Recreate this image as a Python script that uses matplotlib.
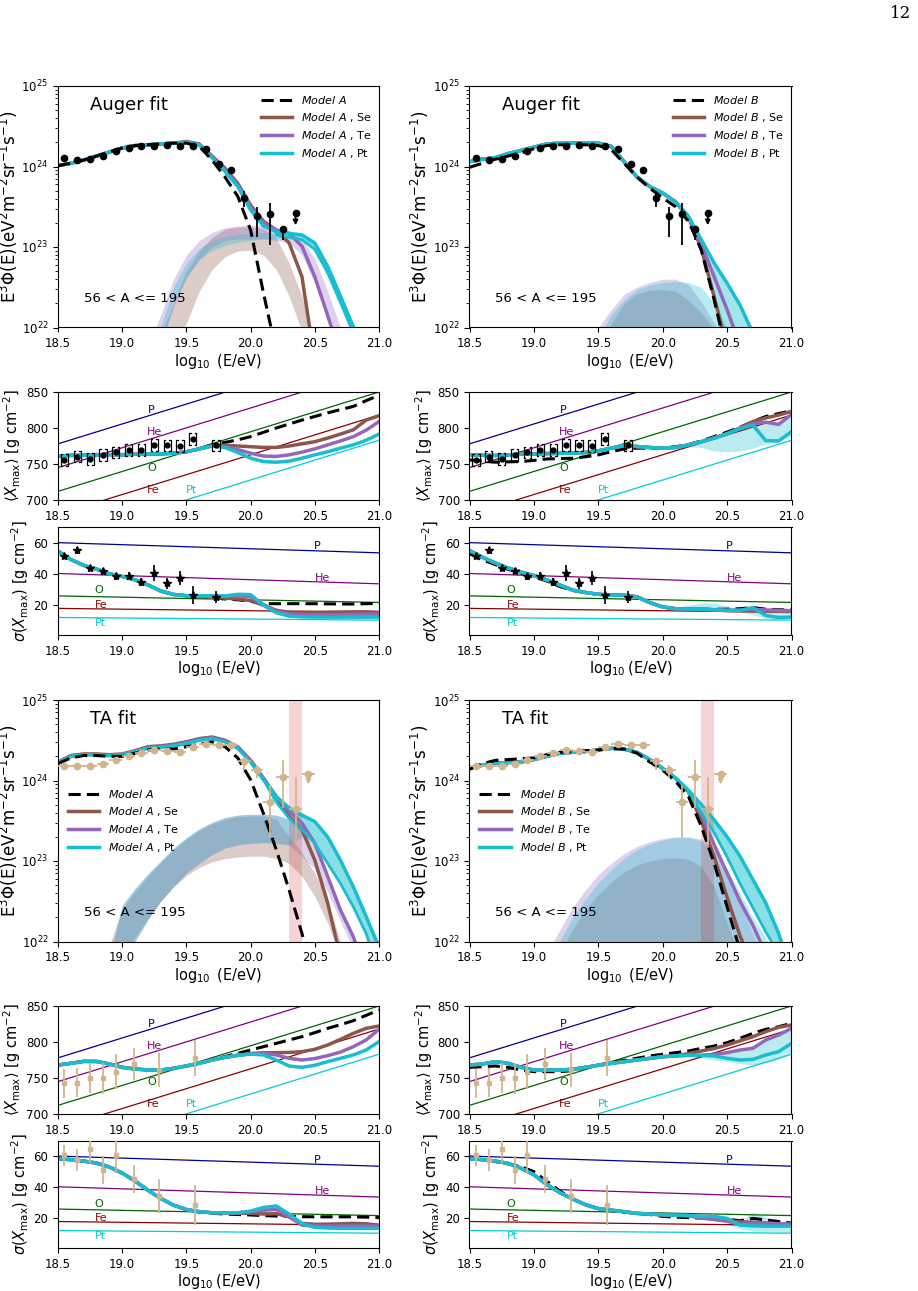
import numpy as np
import matplotlib.pyplot as plt
from matplotlib.lines import Line2D

nan = np.nan

# energy grid of the model curves, log10(E/eV)
lgE = [18.5, 18.6, 18.7, 18.8, 18.9, 19.0, 19.1, 19.2, 19.3, 19.4, 19.5, 19.6, 19.7,
       19.8, 19.9, 20.0, 20.1, 20.2, 20.3, 20.4, 20.5, 20.6, 20.7, 20.8, 20.9, 21.0]
floor = [21.0] * 26

# ---------------- measured data ----------------
auger_E = [18.55, 18.65, 18.75, 18.85, 18.95, 19.05, 19.15, 19.25, 19.35, 19.45,
           19.55, 19.65, 19.75, 19.85, 19.95, 20.05, 20.15, 20.25, 20.35]
auger_lgF = [24.10, 24.08, 24.09, 24.135, 24.19, 24.23, 24.26, 24.26, 24.27, 24.25,
             24.25, 24.22, 24.03, 23.96, 23.61, 23.39, 23.41, 23.22, 23.42]
auger_dlo = [0.01] * 12 + [0.02, 0.03, 0.11, 0.26, 0.38, 0.13, 0.15]  # last = upper limit
auger_dhi = [0.01] * 12 + [0.02, 0.03, 0.08, 0.11, 0.14, 0.03, 0.0]

ta_E = [18.55, 18.65, 18.75, 18.85, 18.95, 19.05, 19.15, 19.25, 19.35, 19.45,
        19.55, 19.65, 19.75, 19.85, 19.95, 20.05, 20.15, 20.25, 20.35, 20.45]
ta_lgF = [24.185, 24.18, 24.18, 24.21, 24.25, 24.30, 24.34, 24.38, 24.37, 24.35,
          24.42, 24.45, 24.44, 24.44, 24.24, 24.13, 23.73, 24.04, 23.64, 24.08]
ta_dlo = [0.01] * 10 + [0.015, 0.02, 0.02, 0.03, 0.11, 0.10, 0.45, 0.38, 0.44, 0.13]
ta_dhi = [0.01] * 10 + [0.015, 0.02, 0.02, 0.03, 0.04, 0.06, 0.21, 0.21, 0.40, 0.0]

auger_cE = [18.55, 18.65, 18.75, 18.85, 18.95, 19.05, 19.15, 19.25, 19.35, 19.45, 19.55, 19.73]
auger_xmax = [755.7, 760.4, 757, 762.7, 766, 769.6, 769.6, 776.6, 775.7, 775.2, 784.5, 775.7]
auger_xmax_err = [2, 2, 2, 2, 2, 2, 2, 2, 2.5, 2.5, 3, 3]
auger_xmax_sys = [8] * 12
auger_sig = [51.4, 55, 43.8, 42, 38.4, 39, 34.7, 40.5, 34, 37.3, 26.5, 25.4]
auger_sig_err = [2, 2, 2, 2, 2, 2.5, 2.5, 5, 3.5, 4.5, 5.5, 4]

ta_cE = [18.55, 18.65, 18.75, 18.85, 18.95, 19.09, 19.29, 19.57]
ta_xmax = [742.6, 743.5, 749.5, 749.5, 758.8, 769.4, 761, 777.3]
ta_xmax_err = [20, 20, 21, 22, 24, 22, 24, 25]
ta_sig = [60.4, 57.7, 64.7, 51.3, 61, 45.5, 34.3, 28.5]
ta_sig_err = [7, 7, 9, 9, 12, 9, 11, 13]

# ---------------- pure-composition reference lines ----------------
comp_names = ['P', 'He', 'O', 'Fe', 'Pt']
comp_colors = ['darkblue', 'purple', 'darkgreen', 'darkred', 'darkturquoise']
comp_xmax_185 = [778, 745, 712, 680, 645]
comp_xmax_210 = [916, 883, 850, 818, 783]
comp_sig_185 = [60, 40.3, 26, 18, 12.2]
comp_sig_210 = [53.5, 33.7, 21.8, 15.5, 10.5]
comp_xmax_lab = [(19.23, 825), (19.25, 794), (19.23, 744), (19.24, 714), (19.54, 714)]
comp_sig_lab = [(20.52, 57.8), (20.56, 37.3), (18.82, 29.5), (18.84, 20.2), (18.83, 8.5)]

# ---------------- Auger fit, model A : spectrum (log10 flux) ----------------
aa_dash = [24.01, 24.04, 24.08, 24.13, 24.18, 24.23, 24.26, 24.27, 24.28, 24.29, 24.29, 24.25, 24.08,
           23.87, 23.63, 23.21, 22.43, 21.7, nan, nan, nan, nan, nan, nan, nan, nan]
aa_cyan = [24.01, 24.04, 24.08, 24.13, 24.18, 24.23, 24.26, 24.27, 24.28, 24.29, 24.30, 24.27, 24.11,
           23.94, 23.75, 23.46, 23.26, 23.19, 23.17, 23.15, 23.05, 22.76, 22.39, 22.01, 21.6, nan]
aa_cyan_lo = [nan] * 17 + [23.15, 23.12, 23.09, 22.97, 22.68, 22.31, 21.93, 21.5, nan]
aa_brown = [24.01, 24.04, 24.08, 24.13, 24.18, 24.23, 24.26, 24.27, 24.28, 24.29, 24.31, 24.28, 24.13,
            23.98, 23.79, 23.52, 23.32, 23.21, 23.05, 22.63, 21.58, nan, nan, nan, nan, nan]
aa_purple = [24.01, 24.04, 24.08, 24.13, 24.18, 24.23, 24.26, 24.27, 24.28, 24.29, 24.30, 24.27, 24.12,
             23.96, 23.77, 23.50, 23.30, 23.21, 23.17, 23.01, 22.63, 22.15, 21.66, nan, nan, nan]
aa_bband_lo = [nan] * 8 + [21.5, 21.8, 22.05, 22.45, 22.72, 22.88, 22.95, 22.96, 22.90, 22.72, 22.39,
                           21.95, 21.5, nan, nan, nan, nan, nan]
aa_bband_hi = [nan] * 8 + [21.9, 22.3, 22.7, 22.95, 23.12, 23.22, 23.25, 23.25, 23.23, 23.11, 22.8,
                           22.39, 21.8, nan, nan, nan, nan, nan]
aa_pband_lo = [nan] * 7 + [21.4, 21.8, 22.25, 22.62, 22.85, 23.0, 23.08, 23.1, 23.1, 23.1, 23.08, 23.05,
                           22.9, 22.55, 22.1, 21.6, nan, nan, nan]
aa_pband_hi = [nan] * 7 + [21.8, 22.15, 22.6, 22.9, 23.08, 23.18, 23.24, 23.26, 23.27, 23.27, 23.22,
                           23.17, 23.1, 22.85, 22.45, 22.0, nan, nan, nan]
aa_cband_lo = [nan] * 8 + [21.75, 22.3, 22.62, 22.84, 22.96, 23.02, 23.06, 23.08, 23.1, 23.1, 23.1,
                           23.08, 22.98, 22.7, 22.33, 21.95, 21.5, nan]
aa_cband_hi = [nan] * 8 + [22.0, 22.5, 22.8, 22.98, 23.08, 23.13, 23.16, 23.17, 23.18, 23.18, 23.17,
                           23.15, 23.05, 22.76, 22.39, 22.01, 21.6, nan]

# ---------------- Auger fit, model B : spectrum ----------------
ab_dash = [23.99, 24.04, 24.09, 24.13, 24.17, 24.22, 24.26, 24.27, 24.27, 24.27, 24.26, 24.21, 24.04,
           23.87, 23.73, 23.61, 23.50, 23.32, 22.96, 22.34, 21.66, nan, nan, nan, nan, nan]
ab_cyan = [24.06, 24.09, 24.11, 24.16, 24.20, 24.24, 24.28, 24.29, 24.29, 24.29, 24.29, 24.25, 24.06,
           23.87, 23.75, 23.67, 23.56, 23.38, 23.09, 22.80, 22.55, 22.28, 21.93, 21.5, nan, nan]
ab_purple = [24.06, 24.09, 24.11, 24.16, 24.20, 24.24, 24.28, 24.29, 24.29, 24.29, 24.29, 24.25, 24.06,
             23.87, 23.75, 23.67, 23.56, 23.38, 23.03, 22.63, 22.22, 21.78, nan, nan, nan, nan]
ab_brown = [24.06, 24.09, 24.11, 24.16, 24.20, 24.24, 24.28, 24.29, 24.29, 24.29, 24.29, 24.25, 24.06,
            23.87, 23.75, 23.67, 23.56, 23.37, 22.98, 22.38, 21.75, nan, nan, nan, nan, nan]
ab_fill_lo = [nan] * 17 + [23.32, 22.96, 22.34, 21.66, 21.0, 21.0, 21.0, nan, nan]
ab_bband_hi = [nan] * 10 + [21.6, 22.05, 22.3, 22.42, 22.46, 22.47, 22.45, 22.34, 22.18, 21.98, 21.6,
                            nan, nan, nan, nan, nan]
ab_pband_hi = [nan] * 9 + [21.6, 22.0, 22.22, 22.41, 22.5, 22.56, 22.6, 22.6, 22.53, 22.32, 22.05, 21.7,
                           nan, nan, nan, nan, nan]
ab_cband_hi = [nan] * 10 + [21.85, 22.16, 22.34, 22.47, 22.53, 22.56, 22.57, 22.56, 22.5, 22.3, 22.0,
                            21.6, nan, nan, nan, nan]

# ---------------- TA fit, model A : spectrum ----------------
tA_dash = [24.21, 24.28, 24.31, 24.31, 24.30, 24.30, 24.34, 24.38, 24.39, 24.39, 24.42, 24.45, 24.48,
           24.42, 24.28, 24.01, 23.59, 23.14, 22.64, 22.10, 21.5, nan, nan, nan, nan, nan]
tA_cyan = [24.22, 24.30, 24.32, 24.32, 24.31, 24.32, 24.36, 24.40, 24.41, 24.43, 24.46, 24.50, 24.52,
           24.48, 24.40, 24.23, 24.01, 23.80, 23.66, 23.57, 23.49, 23.30, 23.01, 22.68, 22.31, 21.93]
tA_cyan_lo = [nan] * 16 + [24.01, 23.73, 23.53, 23.39, 23.22, 22.97, 22.72, 22.43, 22.1, 21.6]
tA_brown = [24.23, 24.31, 24.33, 24.33, 24.32, 24.33, 24.37, 24.42, 24.43, 24.45, 24.48, 24.52, 24.54,
            24.50, 24.42, 24.25, 24.03, 23.80, 23.55, 23.39, 23.01, 22.48, 21.8, nan, nan, nan]
tA_purple = [24.22, 24.30, 24.32, 24.32, 24.31, 24.32, 24.36, 24.41, 24.42, 24.44, 24.47, 24.51, 24.53,
             24.49, 24.41, 24.24, 24.02, 23.80, 23.62, 23.47, 23.22, 22.81, 22.39, 22.06, 21.6, nan]
tA_bband_lo = [nan] * 4 + [21.4, 21.8, 22.05, 22.28, 22.5, 22.68, 22.82, 22.92, 22.99, 23.03, 23.05,
                           23.06, 23.06, 23.03, 22.97, 22.81, 22.56, 22.23, 21.8, nan, nan, nan]
tA_bband_hi = [nan] * 4 + [21.95, 22.4, 22.62, 22.81, 22.98, 23.14, 23.27, 23.38, 23.46, 23.52, 23.55,
                           23.56, 23.56, 23.52, 23.3, 23.1, 22.85, 22.5, 22.0, nan, nan, nan]
tA_pband_lo = [nan] * 4 + [21.3, 21.7, 22.0, 22.27, 22.5, 22.68, 22.85, 22.97, 23.08, 23.16, 23.2,
                           23.22, 23.23, 23.22, 23.2, 23.06, 22.9, 22.62, 22.25, 21.9, 21.5, nan]
tA_pband_hi = [nan] * 4 + [21.8, 22.45, 22.66, 22.84, 23.0, 23.16, 23.29, 23.4, 23.48, 23.54, 23.57,
                           23.58, 23.58, 23.57, 23.52, 23.45, 23.22, 22.81, 22.39, 22.06, 21.6, nan]
tA_cband_lo = [nan] * 4 + [21.3, 21.7, 22.0, 22.27, 22.5, 22.68, 22.85, 22.97, 23.08, 23.16, 23.2,
                           23.22, 23.23, 23.22, 23.2, 23.3, nan, nan, nan, nan, nan, nan]
tA_cband_hi = [nan] * 4 + [21.8, 22.45, 22.66, 22.84, 23.0, 23.16, 23.29, 23.4, 23.48, 23.54, 23.57,
                           23.58, 23.58, 23.57, 23.52, 23.4, nan, nan, nan, nan, nan, nan]

# ---------------- TA fit, model B : spectrum ----------------
tB_dash = [24.14, 24.21, 24.25, 24.26, 24.27, 24.28, 24.32, 24.35, 24.36, 24.37, 24.38, 24.40, 24.39,
           24.34, 24.23, 24.13, 23.99, 23.80, 23.43, 22.97, 22.43, 21.89, nan, nan, nan, nan]
tB_cyan = [24.15, 24.19, 24.22, 24.22, 24.23, 24.26, 24.30, 24.34, 24.35, 24.36, 24.38, 24.40, 24.39,
           24.35, 24.26, 24.15, 24.03, 23.88, 23.70, 23.51, 23.30, 23.06, 22.77, 22.48, 22.10, 21.6]
tB_cyan_lo = [nan] * 17 + [23.85, 23.6, 23.35, 23.05, 22.72, 22.42, 22.12, 21.85, nan]
tB_purple = [24.15, 24.19, 24.22, 24.22, 24.23, 24.26, 24.30, 24.34, 24.35, 24.36, 24.38, 24.40, 24.39,
             24.35, 24.26, 24.15, 24.03, 23.87, 23.58, 23.2, 22.85, 22.5, 22.2, 21.85, nan, nan]
tB_brown = [24.15, 24.19, 24.22, 24.22, 24.23, 24.26, 24.30, 24.34, 24.35, 24.36, 24.38, 24.40, 24.39,
            24.35, 24.26, 24.15, 24.03, 23.86, 23.5, 23.05, 22.55, 22.07, 21.7, nan, nan, nan]
tB_pband_hi = [nan] * 6 + [21.85, 22.14, 22.42, 22.64, 22.83, 22.97, 23.09, 23.18, 23.24, 23.28, 23.30,
                           23.30, 23.27, 23.15, 22.9, 22.5, 22.1, 21.7, nan, nan]
tB_cband_hi = [nan] * 7 + [22.0, 22.3, 22.52, 22.73, 22.89, 23.03, 23.14, 23.21, 23.26, 23.29, 23.29,
                           23.25, 23.13, 22.9, 22.6, 22.3, 22.05, 21.7, nan]
tB_bband_hi = [nan] * 7 + [21.85, 22.15, 22.39, 22.58, 22.74, 22.86, 22.95, 23.0, 23.03, 23.04, 23.02,
                           22.93, 22.68, 22.23, 21.8, nan, nan, nan, nan]

# ---------------- <Xmax> and sigma(Xmax) model curves ----------------
aa_xm_dash = [761, 762, 762, 763, 763, 763, 763.5, 764, 764, 765, 767, 771, 776.6, 780, 783.6, 788,
              794, 800, 805.5, 811, 816, 821, 825.5, 830, 838, 845.4]
aa_xm_brown = [761, 762, 762, 763, 763, 763, 763.5, 764, 764, 765, 767, 771, 775.5, 776, 775, 774,
               773, 773, 775, 778, 781, 786, 791.5, 797.5, 811, 817]
aa_xm_purple = [761, 762, 762, 763, 763, 763, 763.5, 764, 764, 765, 767, 771, 775, 774, 770, 765,
                761, 760.5, 762.7, 766.5, 771, 776.5, 782, 788, 797, 809]
aa_xm_cyan = [761, 762, 762, 763, 763, 763, 763.5, 764, 764, 765, 767, 771, 775, 773, 766, 758,
              753.4, 752.5, 754, 758, 762.7, 767, 772, 776.6, 783, 791.5]
aa_sg_dash = [54.6, 49.2, 45.5, 43.1, 40.1, 38.4, 36.2, 33.0, 29.1, 26.9, 26.1, 25.6, 24.8, 24.0,
              23.5, 22.5, 21.0, 21.0, 21.0, 21.0, 21.0, 20.9, 20.8, 20.8, 21.0, 21.2]
aa_sg_brown = [54.6, 49.2, 45.5, 43.1, 40.1, 38.4, 36.2, 33.0, 29.1, 26.9, 26.1, 25.6, 25.2, 24.6,
               24.0, 23.0, 20.0, 16.8, 15.5, 15.5, 15.5, 15.6, 15.7, 15.8, 15.8, 15.5]
aa_sg_purple = [54.6, 49.2, 45.5, 43.1, 40.1, 38.4, 36.2, 33.0, 29.1, 26.9, 26.1, 26.0, 26.0, 25.8,
                26.0, 25.5, 20.5, 16.0, 14.5, 14.0, 14.0, 14.0, 14.0, 14.2, 14.3, 14.3]
aa_sg_cyan = [54.6, 49.2, 45.5, 43.1, 40.1, 38.4, 36.2, 33.0, 29.1, 26.9, 26.1, 26.0, 26.0, 26.0,
              27.0, 26.8, 20.0, 15.2, 13.1, 12.6, 12.4, 12.4, 12.4, 12.4, 12.4, 12.4]

ab_xm_dash = [755.7, 754, 752.5, 753, 753.4, 755, 757, 757.5, 758, 760, 762.7, 767, 771, 772, 772, 772,
              774, 777, 782, 788, 794.3, 801, 809, 816, 820, 824]
ab_xm_brown = [762.7, 762.2, 761.8, 762.7, 763.6, 764, 764.5, 764.8, 765, 766, 768.3, 772, 775.7, 774.3,
               772.9, 772, 773, 776.6, 781, 786.5, 792, 800, 809, 814, 818, 823]
ab_xm_purple = [762.7, 762.2, 761.8, 762.7, 763.6, 764, 764.5, 764.8, 765, 766, 768.3, 772, 775.7, 774.3,
                772.9, 772, 773, 776.6, 781, 785.9, 792, 800, 806, 808, 805, 819]
ab_xm_cyan = [762.7, 762.2, 761.8, 762.7, 763.6, 764, 764.5, 764.8, 765, 766, 768.3, 772, 775.7, 774.3,
              772.9, 772, 773, 776.6, 781, 785.9, 792, 799, 804, 782.5, 782, 795]
ab_xm_band_lo = [nan] * 15 + [772, 772, 774, 773, 768, 767, 768, 772, 778, 781, 790]
ab_sg_dash = [53, 49, 46, 43, 40.5, 38, 35.5, 32, 29.5, 28, 27, 26.5, 26.4, 25.4, 21.7, 18.9, 17.8,
              17.6, 17.4, 17.4, 17.5, 17.8, 18.5, 17.5, 17.2, 17.0]
ab_sg_brown = [55, 50.7, 47, 43.8, 41.2, 39, 36.2, 33, 29.7, 28.2, 27, 26.5, 26.4, 25.4, 21.7, 18.9,
               17.8, 17.6, 17.4, 17.1, 16.6, 16.5, 16.5, 16.3, 16.2, 16.0]
ab_sg_purple = [55, 50.7, 47, 43.8, 41.2, 39, 36.2, 33, 29.7, 28.2, 27, 26.5, 26.4, 25.4, 21.7, 18.9,
                17.8, 17.6, 17.4, 17.1, 16.8, 16.8, 17.5, 17.0, 16.8, 16.5]
ab_sg_cyan = [55, 50.7, 47, 43.8, 41.2, 39, 36.2, 33, 29.7, 28.2, 27, 26.5, 26.4, 25.4, 21.7, 18.9,
              17.8, 17.6, 17.4, 17.1, 16.8, 16.8, 18.5, 13.5, 12.2, 12.4]
ab_sg_band_lo = [nan] * 15 + [18.9, 17.8, 17.3, 17.0, 16.5, 16.0, 15.5, 14.0, 11.5, 11.3, 11.5]
ab_sg_band_hi = [nan] * 15 + [19, 19, 20, 21.5, 21.5, 19.5, 17.5, 19, 17, 16.5, 15.5]

tA_xm_dash = [768, 770.4, 773.1, 773, 769.4, 764.8, 762.5, 761.1, 761.1, 763.4, 766.7, 770.4, 775.5,
              779.6, 784.3, 788.9, 793.5, 798.1, 802.8, 807.4, 813, 819, 824, 829.6, 837, 844.4]
tA_xm_brown = [768, 770.4, 773.1, 773, 769.4, 764.8, 762.5, 761.1, 761.1, 763.4, 766.7, 770.4, 775,
               778.7, 781.5, 784, 785, 785.2, 785.5, 786.6, 789.8, 795.8, 803.7, 812, 819, 822.2]
tA_xm_purple = [768, 770.4, 773.1, 773, 769.4, 764.8, 762.5, 761.1, 761.1, 763.4, 766.7, 770.4, 775,
                778.7, 781.5, 783.3, 784.3, 782, 777.3, 775, 777, 781, 786, 793.5, 802.8, 817.6]
tA_xm_cyan = [768, 770.4, 773.1, 773, 769.4, 764.8, 762.5, 761.1, 761.1, 763.4, 766.7, 770.4, 775,
              778.7, 781.5, 783.3, 782, 775, 766.7, 764.8, 767.6, 772.7, 777.3, 782, 788.9, 800.5]
tA_sg_dash = [58.3, 57.7, 56.8, 55.5, 53, 49.1, 44, 38.1, 32.8, 28.5, 25.7, 24.0, 23.3, 22.8, 22.5,
              22.2, 21.8, 21.5, 21.3, 21.1, 21, 21, 21, 21, 20.8, 20.5]
tA_sg_brown = [58.3, 57.7, 56.8, 55.5, 53, 49.1, 44, 38.1, 32.8, 28.5, 25.7, 24.3, 23.6, 23.6, 23.3,
               23.2, 22.8, 23, 21, 16.8, 16.2, 16.3, 16.5, 16.8, 16.5, 15.7]
tA_sg_purple = [58.3, 57.7, 56.8, 55.5, 53, 49.1, 44, 38.1, 32.8, 28.5, 25.7, 24.3, 23.6, 23.6, 23.6,
                24.2, 25.3, 25.7, 21, 15.7, 15.1, 15.1, 15.1, 15.1, 15.1, 15.1]
tA_sg_cyan = [58.3, 57.7, 56.8, 55.5, 53, 49.1, 44, 38.1, 32.8, 28.5, 25.7, 24.3, 23.6, 23.6, 23.6,
              24.7, 27, 28, 22.8, 16.8, 14.3, 13.8, 13.6, 13.6, 13.6, 13.6]

tB_xm_dash = [764.8, 765.7, 766.7, 764.8, 761.1, 758.8, 758.8, 758.8, 760.2, 764.8, 768, 771.5, 774.5,
              777.5, 780.6, 782.9, 785.2, 787.5, 791.2, 794.4, 799.1, 805.1, 812, 817.6, 821.3, 825.9]
tB_xm_brown = [768, 769.4, 772.7, 770.4, 764.8, 761.1, 761.1, 761.1, 762, 764.8, 767.6, 770.4, 772.7,
               775, 777.3, 779.6, 780.6, 784, 787.5, 791, 795.8, 801.5, 807.4, 814.4, 820.4, 823.6]
tB_xm_purple = [768, 769.4, 772.7, 770.4, 764.8, 761.1, 761.1, 761.1, 762, 764.8, 767.6, 770.4, 772.7,
                775, 777.3, 779.6, 780.6, 781.5, 781.5, 783, 785.2, 788.9, 791.2, 802.8, 809.7, 819]
tB_xm_cyan = [768, 769.4, 772.7, 770.4, 764.8, 761.1, 761.1, 761.1, 762, 764.8, 767.6, 770.4, 772.7,
              775, 777.3, 779.6, 780.6, 781.5, 781.5, 780.6, 777.3, 775, 775.9, 782, 786.6, 798.1]
tB_xm_band_lo = [nan] * 17 + [780, 778, 775, 772.7, 770, 768, 771, 776, 786]
tB_sg_dash = [58.3, 57.7, 56.5, 55, 53.2, 50, 43.9, 37.6, 32.5, 28.8, 26.3, 25.0, 24.0, 23.2, 22.5,
              21.3, 20.8, 20.5, 20.2, 20.0, 19.5, 18.5, 20.0, 19.0, 18.0, 17.0]
tB_sg_brown = [58.3, 57.7, 56.8, 55.3, 52.2, 48, 41.8, 36.6, 32.5, 28.8, 26.3, 25.3, 24.3, 23.2, 22.8,
               22.3, 22.0, 21.8, 20.5, 19.5, 18.6, 17.8, 17.5, 17, 16.6, 16.3]
tB_sg_purple = [58.3, 57.7, 56.8, 55.3, 52.2, 48, 41.8, 36.6, 32.5, 28.8, 26.3, 25.3, 24.3, 23.2, 22.8,
                22.3, 22.0, 21.8, 20.2, 19.3, 18.2, 16.3, 17.1, 17, 16.5, 16.2]
tB_sg_cyan = [58.3, 57.7, 56.8, 55.3, 52.2, 48, 41.8, 36.6, 32.5, 28.8, 26.3, 25.3, 24.3, 23.2, 22.8,
              22.3, 22.0, 21.8, 21.3, 21.3, 20.0, 15.7, 15.2, 15.0, 15.0, 15.0]
tB_sg_band_lo = [nan] * 20 + [16, 13.5, 12, 11.5, 11.3, 11.2]
tB_sg_band_hi = [nan] * 20 + [19.5, 18, 24, 21, 17.5, 16]

# ---------------- style ----------------
C_BROWN, C_PURPLE, C_CYAN = '#8c564b', '#9467bd', '#17becf'
C_TA = '#d2b48c'
LW = 2.5
TICK_FS, LABEL_FS = 8.5, 10.5
W, H = 918, 1291


def tolin(v):
    return 10.0 ** np.asarray(v, dtype=float)


def axpos(x0, w, top, bot):
    return [x0 / W, 1 - bot / H, w / W, (bot - top) / H]


def style(ax):
    ax.set_xlim(18.5, 21.0)
    ax.set_xticks([18.5, 19.0, 19.5, 20.0, 20.5, 21.0])
    ax.tick_params(labelsize=TICK_FS)


def spectrum(ax, dash, brown, purple, cyan, cyan_lo, bands, fills, data, tag, model, loc):
    x = np.array(lgE)
    for lo, hi, c in bands:
        ax.fill_between(x, tolin(lo), tolin(hi), color=c, alpha=0.3, lw=0)
    for lo, hi, a in fills:
        ax.fill_between(x, tolin(lo), tolin(hi), color=C_CYAN, alpha=a, lw=0)
    if data == 'ta':
        ax.axvspan(20.3, 20.4, color='tab:red', alpha=0.2, lw=0)
    ax.plot(x, tolin(brown), color=C_BROWN, lw=LW)
    ax.plot(x, tolin(purple), color=C_PURPLE, lw=LW)
    ax.plot(x, tolin(cyan), color=C_CYAN, lw=LW)
    if cyan_lo is not None:
        ax.plot(x, tolin(cyan_lo), color=C_CYAN, lw=2.0)
    ax.plot(x, tolin(dash), color='black', lw=2.2, ls=(0, (4, 2)))

    if data == 'auger':
        E, lgF, dlo, dhi, col, xe = auger_E, auger_lgF, auger_dlo, auger_dhi, 'black', None
    else:
        E, lgF, dlo, dhi, col, xe = ta_E, ta_lgF, ta_dlo, ta_dhi, C_TA, 0.05
    E = np.array(E)
    lgF = np.array(lgF)
    F = tolin(lgF)
    elo = F - tolin(lgF - np.array(dlo))
    ehi = tolin(lgF + np.array(dhi)) - F
    elo[-1] = 0.0  # last point is an upper limit
    ax.errorbar(E, F, yerr=[elo, ehi], xerr=xe, fmt='o', color=col, ms=4.5,
                elinewidth=1.3, capsize=0, zorder=5)
    ax.annotate('', xy=(E[-1], tolin(lgF[-1] - dlo[-1])), xytext=(E[-1], F[-1]),
                arrowprops=dict(arrowstyle='-|>', color=col, lw=1.3, mutation_scale=7,
                                shrinkA=0, shrinkB=0), zorder=5)

    ax.set_yscale('log')
    ax.set_ylim(1e22, 1e25)
    style(ax)
    ax.set_xlabel(r'$\log_{10}$ (E/eV)', fontsize=LABEL_FS, labelpad=1)
    ax.set_ylabel(r'E$^3\Phi$(E)(eV$^2$m$^{-2}$sr$^{-1}$s$^{-1}$)', fontsize=12, labelpad=1)
    ax.text(0.1, 0.92, tag, transform=ax.transAxes, fontsize=13, ha='left', va='center')
    ax.text(0.08, 0.12, '56 < A <= 195', transform=ax.transAxes, fontsize=9.5,
            ha='left', va='center')

    handles = [Line2D([], [], color='black', lw=2.2, ls=(0, (4, 2))),
               Line2D([], [], color=C_BROWN, lw=LW),
               Line2D([], [], color=C_PURPLE, lw=LW),
               Line2D([], [], color=C_CYAN, lw=LW)]
    m = r'$Model\ %s$' % model
    labels = [m, m + ' , Se', m + ' , Te', m + ' , Pt']
    if loc == 'upper right':
        ax.legend(handles, labels, loc='upper right', fontsize=8, frameon=False,
                  handlelength=2.8, labelspacing=0.45, borderaxespad=0.3)
    else:
        ax.legend(handles, labels, loc='center left', bbox_to_anchor=(0.0, 0.5), fontsize=8,
                  frameon=False, handlelength=2.8, labelspacing=0.45)


def composition(ax, kind, dash, brown, purple, cyan, band, data, last):
    x = np.array(lgE)
    if kind == 'xmax':
        c0, c1, labs = comp_xmax_185, comp_xmax_210, comp_xmax_lab
    else:
        c0, c1, labs = comp_sig_185, comp_sig_210, comp_sig_lab
    for name, col, y0, y1, (tx, ty) in zip(comp_names, comp_colors, c0, c1, labs):
        ax.plot([18.5, 21.0], [y0, y1], color=col, lw=0.9)
        ax.text(tx, ty, name, color=col, fontsize=8, ha='center', va='center')
    if band is not None:
        lo, hi = band
        ax.fill_between(x, np.asarray(lo, float), np.asarray(hi, float), color=C_CYAN,
                        alpha=0.3, lw=0)
    ax.plot(x, dash, color='black', lw=2.2, ls=(0, (4, 2)))
    ax.plot(x, brown, color=C_BROWN, lw=LW)
    ax.plot(x, purple, color=C_PURPLE, lw=LW)
    ax.plot(x, cyan, color=C_CYAN, lw=LW)

    if data == 'auger':
        E = np.array(auger_cE)
        if kind == 'xmax':
            y, e = np.array(auger_xmax), np.array(auger_xmax_err)
            for xi, yi, s in zip(E, y, auger_xmax_sys):
                w, a = 0.028, 0.012
                ax.plot([xi - w + a, xi - w, xi - w, xi - w + a], [yi + s, yi + s, yi - s, yi - s],
                        color='black', lw=0.9, zorder=5)
                ax.plot([xi + w - a, xi + w, xi + w, xi + w - a], [yi + s, yi + s, yi - s, yi - s],
                        color='black', lw=0.9, zorder=5)
            ax.errorbar(E, y, yerr=e, fmt='o', color='black', ms=3.5, elinewidth=1.2, zorder=6)
        else:
            ax.errorbar(E, auger_sig, yerr=auger_sig_err, fmt='*', color='black', ms=6,
                        elinewidth=1.2, zorder=6)
    else:
        E = np.array(ta_cE)
        if kind == 'xmax':
            y, e = ta_xmax, ta_xmax_err
        else:
            y, e = ta_sig, ta_sig_err
        ax.errorbar(E, y, yerr=e, fmt='s', color=C_TA, ms=3, elinewidth=1.3, zorder=6)

    style(ax)
    if kind == 'xmax':
        ax.set_ylim(700, 850)
        ax.set_yticks([700, 750, 800, 850])
        ax.set_ylabel(r'$\langle X_{\rm max}\rangle$ [g cm$^{-2}$]', fontsize=LABEL_FS, labelpad=2)
    else:
        ax.set_ylim(1, 70)
        ax.set_yticks([20, 40, 60])
        ax.set_ylabel(r'$\sigma(X_{\rm max})$ [g cm$^{-2}$]', fontsize=LABEL_FS, labelpad=2)
    if last:
        ax.set_xlabel(r'$\log_{10}$(E/eV)', fontsize=LABEL_FS, labelpad=1)


fig = plt.figure(figsize=(W / 100, H / 100), dpi=100)

L0, LW_ = 58, 321
R0, RW_ = 469.5, 322

# Auger fit
ax = fig.add_axes(axpos(L0, LW_, 86, 327.5))
spectrum(ax, aa_dash, aa_brown, aa_purple, aa_cyan, aa_cyan_lo,
         [(aa_bband_lo, aa_bband_hi, C_BROWN), (aa_pband_lo, aa_pband_hi, C_PURPLE),
          (aa_cband_lo, aa_cband_hi, C_CYAN)],
         [(aa_cyan_lo, aa_cyan, 0.35)], 'auger', 'Auger fit', 'A', 'upper right')
ax = fig.add_axes(axpos(R0, RW_, 86, 327.5))
spectrum(ax, ab_dash, ab_brown, ab_purple, ab_cyan, None,
         [(floor, ab_bband_hi, C_BROWN), (floor, ab_pband_hi, C_PURPLE),
          (floor, ab_cband_hi, C_CYAN)],
         [(ab_fill_lo, ab_cyan, 0.4)], 'auger', 'Auger fit', 'B', 'upper right')

ax = fig.add_axes(axpos(L0, LW_, 392, 500))
composition(ax, 'xmax', aa_xm_dash, aa_xm_brown, aa_xm_purple, aa_xm_cyan, None, 'auger', False)
ax = fig.add_axes(axpos(L0, LW_, 527, 635))
composition(ax, 'sig', aa_sg_dash, aa_sg_brown, aa_sg_purple, aa_sg_cyan, None, 'auger', True)
ax = fig.add_axes(axpos(R0, RW_, 392, 500))
composition(ax, 'xmax', ab_xm_dash, ab_xm_brown, ab_xm_purple, ab_xm_cyan,
            (ab_xm_band_lo, ab_xm_purple), 'auger', False)
ax = fig.add_axes(axpos(R0, RW_, 527, 635))
composition(ax, 'sig', ab_sg_dash, ab_sg_brown, ab_sg_purple, ab_sg_cyan,
            (ab_sg_band_lo, ab_sg_band_hi), 'auger', True)

# TA fit
ax = fig.add_axes(axpos(L0, LW_, 700, 941.5))
spectrum(ax, tA_dash, tA_brown, tA_purple, tA_cyan, tA_cyan_lo,
         [(tA_bband_lo, tA_bband_hi, C_BROWN), (tA_pband_lo, tA_pband_hi, C_PURPLE),
          (tA_cband_lo, tA_cband_hi, C_CYAN)],
         [(tA_cyan_lo, tA_cyan, 0.5)], 'ta', 'TA fit', 'A', 'center left')
ax = fig.add_axes(axpos(R0, RW_, 700, 941.5))
spectrum(ax, tB_dash, tB_brown, tB_purple, tB_cyan, tB_cyan_lo,
         [(floor, tB_bband_hi, C_BROWN), (floor, tB_pband_hi, C_PURPLE),
          (floor, tB_cband_hi, C_CYAN)],
         [(tB_cyan_lo, tB_cyan, 0.5)], 'ta', 'TA fit', 'B', 'center left')

ax = fig.add_axes(axpos(L0, LW_, 1006, 1114))
composition(ax, 'xmax', tA_xm_dash, tA_xm_brown, tA_xm_purple, tA_xm_cyan, None, 'ta', False)
ax = fig.add_axes(axpos(L0, LW_, 1140.5, 1248))
composition(ax, 'sig', tA_sg_dash, tA_sg_brown, tA_sg_purple, tA_sg_cyan, None, 'ta', True)
ax = fig.add_axes(axpos(R0, RW_, 1006, 1114))
composition(ax, 'xmax', tB_xm_dash, tB_xm_brown, tB_xm_purple, tB_xm_cyan,
            (tB_xm_band_lo, tB_xm_purple), 'ta', False)
ax = fig.add_axes(axpos(R0, RW_, 1140.5, 1248))
composition(ax, 'sig', tB_sg_dash, tB_sg_brown, tB_sg_purple, tB_sg_cyan,
            (tB_sg_band_lo, tB_sg_band_hi), 'ta', True)

fig.text(901 / W, 1 - 14 / H, '12', fontsize=12, family='DejaVu Serif', ha='center', va='center')

fig.savefig('out.png', dpi=100)
